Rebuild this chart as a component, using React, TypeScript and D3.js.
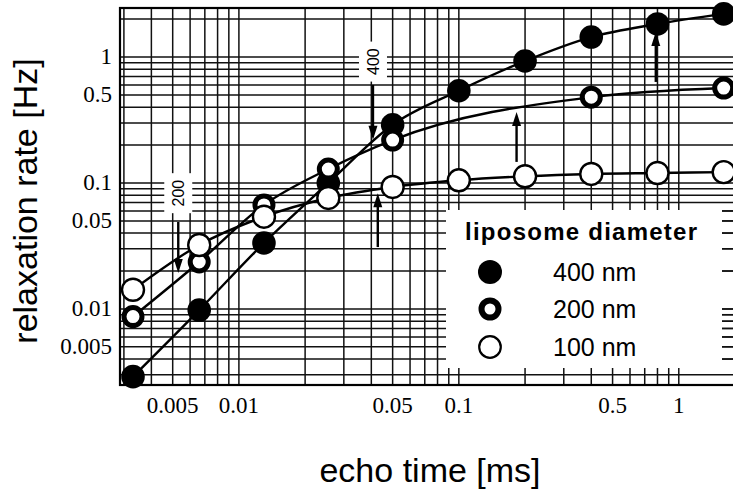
import React, { useEffect, useRef } from "react";
import * as d3 from "d3";

// echo times [ms] and relaxation rates [Hz]
const echoTime = [0.0033, 0.0066, 0.013, 0.0255, 0.05, 0.1, 0.2, 0.4, 0.8, 1.6];
const rate400 = [0.0029, 0.0098, 0.0334, 0.1, 0.29, 0.54, 0.93, 1.44, 1.83, 2.2];
const echoTime200 = [0.0033, 0.0066, 0.013, 0.0255, 0.05, 0.4, 1.6];
const rate200 = [0.0087, 0.0236, 0.067, 0.129, 0.219, 0.48, 0.567];
const rate100 = [0.0142, 0.0322, 0.054, 0.076, 0.093, 0.105, 0.113, 0.118, 0.12, 0.122];

const xTickLabels = [0.005, 0.01, 0.05, 0.1, 0.5, 1];
const yTickLabels = [1, 0.5, 0.1, 0.05, 0.01, 0.005];
const legendLabels = ["400 nm", "200 nm", "100 nm"];

// annotation arrows in data units: x, tail y, head y
const arrowX = [0.0053, 0.0407, 0.0428, 0.183, 0.786];
const arrowTail = [0.049, 0.6, 0.031, 0.147, 0.634];
const arrowHead = [0.0193, 0.22, 0.083, 0.366, 1.58];
const sizeLabels = ["200", "400"];
const sizeLabelX = [0.0053, 0.0407];
const sizeLabelY = [0.083, 0.92];

const SANS = "'Liberation Sans', Arial, Helvetica, sans-serif";
const SERIF = "'Liberation Serif', 'Times New Roman', serif";

const App = () => {
  const ref = useRef<SVGSVGElement>(null);

  useEffect(() => {
    draw();
  });

  const draw = () => {
    const width = 733;
    const height = 491;
    const left = 120;
    const right = 745;
    const top = 8;
    const bottom = 385;

    const svg = d3.select(ref.current);
    svg.selectAll("*").remove();
    svg.attr("width", width).attr("height", height);

    const x = d3.scaleLog().domain([0.00288, 2]).range([left, right]);
    const y = d3.scaleLog().domain([0.00249, 2.45]).range([bottom, top]);

    svg.append("rect").attr("width", width).attr("height", height).attr("fill", "#fff");

    // log grid
    const gridVals = (lo: number, hi: number) => {
      const out: number[] = [];
      for (let k = -3; k <= 0; k++) {
        for (let d = 1; d <= 9; d++) {
          const v = d * Math.pow(10, k);
          if (v >= lo && v <= hi) out.push(v);
        }
      }
      return out;
    };
    const xGrid = gridVals(0.003, 2);
    const yGrid = gridVals(0.003, 2.4);

    const grid = svg.append("g").attr("stroke", "#111").attr("stroke-width", 1.5);
    grid
      .selectAll("line.gx")
      .data(xGrid)
      .enter()
      .append("line")
      .attr("x1", (d) => x(d))
      .attr("x2", (d) => x(d))
      .attr("y1", top)
      .attr("y2", bottom);
    grid
      .selectAll("line.gy")
      .data(yGrid)
      .enter()
      .append("line")
      .attr("x1", left)
      .attr("x2", right)
      .attr("y1", (d) => y(d))
      .attr("y2", (d) => y(d));

    svg
      .append("rect")
      .attr("x", left)
      .attr("y", top)
      .attr("width", right - left)
      .attr("height", bottom - top)
      .attr("fill", "none")
      .attr("stroke", "#000")
      .attr("stroke-width", 2.2);

    // white boxes behind the rotated size labels
    sizeLabels.forEach((t, i) => {
      const cx = x(sizeLabelX[i]);
      const cy = y(sizeLabelY[i]);
      svg
        .append("rect")
        .attr("x", cx - 14)
        .attr("y", cy - 20)
        .attr("width", 28)
        .attr("height", 40)
        .attr("fill", "#fff");
      svg
        .append("text")
        .attr("transform", `translate(${cx},${cy}) rotate(-90)`)
        .attr("text-anchor", "middle")
        .attr("dy", "0.36em")
        .style("font-family", SANS)
        .style("font-size", "16px")
        .attr("fill", "#000")
        .text(t);
    });

    // legend box
    const lx = 446;
    const ly = 210;
    const lw = 276;
    const lh = 158;
    svg.append("rect").attr("x", lx).attr("y", ly).attr("width", lw).attr("height", lh).attr("fill", "#fff");
    svg
      .append("g")
      .selectAll("line")
      .data(yGrid.filter((d) => y(d) > ly && y(d) < ly + lh))
      .enter()
      .append("line")
      .attr("x1", lx + lw)
      .attr("x2", width)
      .attr("y1", (d) => y(d))
      .attr("y2", (d) => y(d))
      .attr("stroke", "#111")
      .attr("stroke-width", 1.5);

    // data lines
    const line = d3
      .line<[number, number]>()
      .x((d) => x(d[0]))
      .y((d) => y(d[1]))
      .curve(d3.curveMonotoneX);

    const s400 = echoTime.map((t, i) => [t, rate400[i]] as [number, number]);
    const s200 = echoTime200.map((t, i) => [t, rate200[i]] as [number, number]);
    const s100 = echoTime.map((t, i) => [t, rate100[i]] as [number, number]);

    [s400, s200, s100].forEach((s) => {
      svg
        .append("path")
        .attr("d", line(s))
        .attr("fill", "none")
        .attr("stroke", "#000")
        .attr("stroke-width", 2.4);
    });

    // arrows
    arrowX.forEach((ax, i) => {
      const px = x(ax);
      const y0 = y(arrowTail[i]);
      const y1 = y(arrowHead[i]);
      const dir = y1 > y0 ? 1 : -1;
      svg
        .append("line")
        .attr("x1", px)
        .attr("x2", px)
        .attr("y1", y0)
        .attr("y2", y1 - dir * 10)
        .attr("stroke", "#000")
        .attr("stroke-width", 2.4);
      svg
        .append("path")
        .attr("d", `M${px},${y1} L${px - 4.5},${y1 - dir * 14} L${px + 4.5},${y1 - dir * 14} Z`)
        .attr("fill", "#000");
    });

    // markers
    const markers = (s: [number, number][], kind: string, g: any) => {
      const sel = g
        .selectAll("circle")
        .data(s)
        .enter()
        .append("circle")
        .attr("cx", (d: [number, number]) => x(d[0]))
        .attr("cy", (d: [number, number]) => y(d[1]));
      if (kind === "400") sel.attr("r", 11.8).attr("fill", "#000");
      if (kind === "200") sel.attr("r", 9).attr("fill", "#fff").attr("stroke", "#000").attr("stroke-width", 5);
      if (kind === "100") sel.attr("r", 11).attr("fill", "#fff").attr("stroke", "#000").attr("stroke-width", 2.4);
    };
    markers(s400, "400", svg.append("g"));
    markers(s200, "200", svg.append("g"));
    markers(s100, "100", svg.append("g"));

    // legend contents
    svg
      .append("text")
      .attr("x", 465)
      .attr("y", 240)
      .style("font-family", SANS)
      .style("font-size", "24px")
      .style("font-weight", "bold")
      .attr("textLength", 232)
      .attr("fill", "#000")
      .text("liposome diameter");
    const rowY = [272, 309, 347];
    legendLabels.forEach((t, i) => {
      const c = svg.append("circle").attr("cx", 490).attr("cy", rowY[i]);
      if (i === 0) c.attr("r", 12).attr("fill", "#000");
      if (i === 1) c.attr("r", 8.5).attr("fill", "#fff").attr("stroke", "#000").attr("stroke-width", 6);
      if (i === 2) c.attr("r", 10.8).attr("fill", "#fff").attr("stroke", "#000").attr("stroke-width", 2.2);
      svg
        .append("text")
        .attr("x", 553)
        .attr("y", rowY[i] + 9)
        .style("font-family", SANS)
        .style("font-size", "25px")
        .attr("fill", "#000")
        .text(t);
    });

    // tick labels
    svg
      .append("g")
      .selectAll("text")
      .data(xTickLabels)
      .enter()
      .append("text")
      .attr("x", (d) => x(d))
      .attr("y", 413)
      .attr("text-anchor", "middle")
      .style("font-family", SERIF)
      .style("font-size", "23px")
      .attr("fill", "#000")
      .text((d) => String(d));
    svg
      .append("g")
      .selectAll("text")
      .data(yTickLabels)
      .enter()
      .append("text")
      .attr("x", 112)
      .attr("y", (d) => y(d) + 7)
      .attr("text-anchor", "end")
      .style("font-family", SERIF)
      .style("font-size", "23px")
      .attr("fill", "#000")
      .text((d) => String(d));

    // axis titles
    svg
      .append("text")
      .attr("x", 430)
      .attr("y", 482)
      .attr("text-anchor", "middle")
      .style("font-family", SANS)
      .style("font-size", "34px")
      .attr("fill", "#000")
      .text("echo time [ms]");
    svg
      .append("text")
      .attr("transform", "translate(37,201) rotate(-90)")
      .attr("text-anchor", "middle")
      .style("font-family", SANS)
      .style("font-size", "34px")
      .attr("fill", "#000")
      .text("relaxation rate [Hz]");
  };

  return (
    <div style={{ position: "absolute", left: 0, top: 0, width: 733, height: 491, overflow: "hidden" }}>
      <svg ref={ref}></svg>
    </div>
  );
};

export default App;
